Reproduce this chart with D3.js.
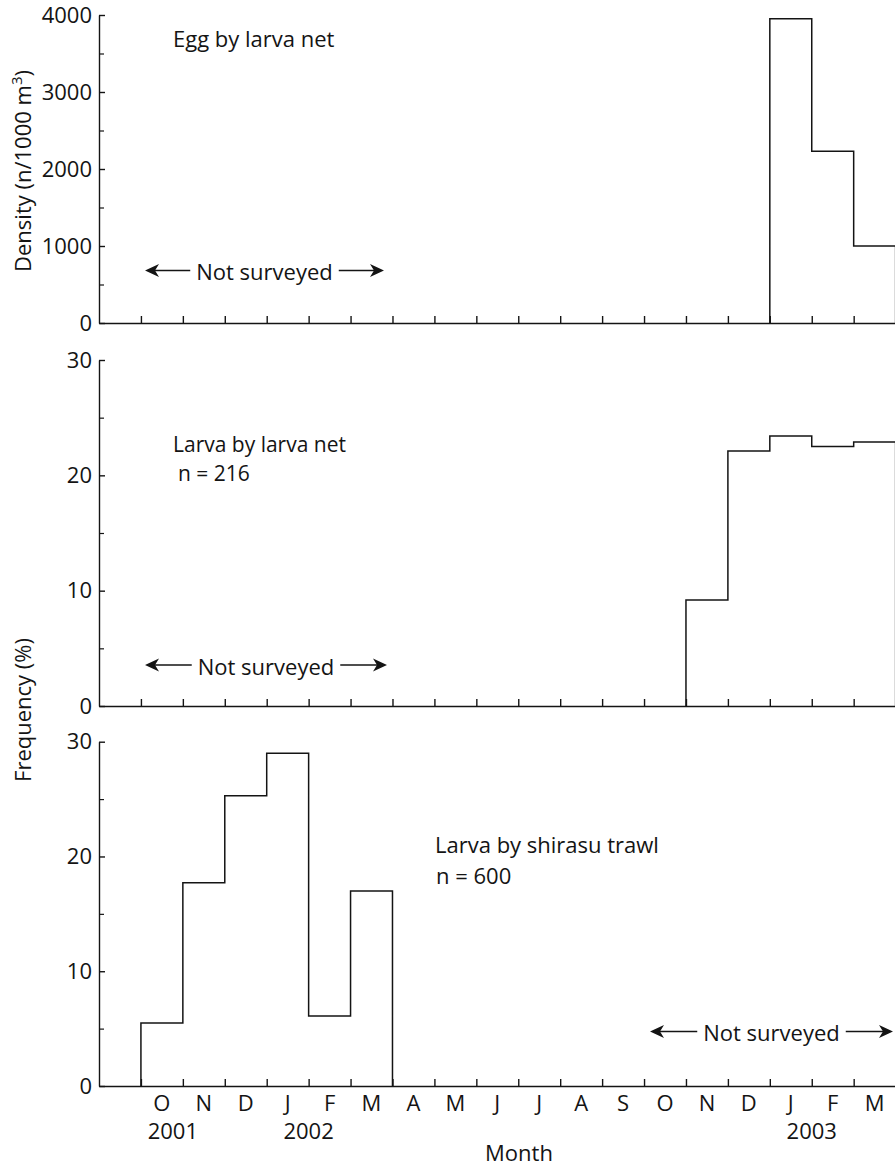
<!DOCTYPE html>
<html>
<head>
<meta charset="utf-8">
<script src="https://cdn.jsdelivr.net/npm/d3@7"></script>
<style>
  body { margin: 0; background: #fff; }
  svg { display: block; font-family: 'Open Sans', sans-serif; }
</style>
</head>
<body>
<svg id="chart" width="895" height="1165"></svg>
<script>
/* global d3 */
// Months on the x axis, Sep 2001 to Mar 2003 (Sep 2001 has no label).
const monthKeys = ['2001-09', '2001-10', '2001-11', '2001-12', '2002-01', '2002-02', '2002-03',
  '2002-04', '2002-05', '2002-06', '2002-07', '2002-08', '2002-09', '2002-10', '2002-11',
  '2002-12', '2003-01', '2003-02', '2003-03'];
const monthLabels = ['', 'O', 'N', 'D', 'J', 'F', 'M', 'A', 'M', 'J', 'J', 'A', 'S', 'O', 'N',
  'D', 'J', 'F', 'M'];
const yearLabels = ['2001', '2002', '2003'];
const yearAt = ['2001-11', '2002-02', '2003-02']; // label sits on the start of this month

// Egg density by larva net (n/1000 m3)
const eggMonths = ['2003-01', '2003-02', '2003-03'];
const eggValues = [3950, 2230, 1000];

// Larva frequency by larva net (%), n = 216
const netMonths = ['2002-11', '2002-12', '2003-01', '2003-02', '2003-03'];
const netValues = [9.2, 22.1, 23.4, 22.5, 22.9];

// Larva frequency by shirasu trawl (%), n = 600
const trawlMonths = ['2001-10', '2001-11', '2001-12', '2002-01', '2002-02', '2002-03'];
const trawlValues = [5.5, 17.7, 25.3, 29.0, 6.1, 17.0];

const densityTicks = [0, 1000, 2000, 3000, 4000];
const densityMinor = [500, 1500, 2500, 3500];
const freqTicks = [0, 10, 20, 30];
const freqMinor = [5, 15, 25];

const
  left = 99, // y axis position
  right = 895.6, // end of Mar 2003
  fontSize = 22,
  ink = '#141414';

const svg = d3.select('#chart');

const xBand = d3.scaleBand().domain(monthKeys).range([left, right]);
const xEdge = d3.scaleLinear().domain([0, monthKeys.length]).range([left, right]);

const panels = [
  {top: 15, bottom: 323, max: 4000, ticks: densityTicks, minor: densityMinor, months: eggMonths, values: eggValues},
  {top: 360, bottom: 706, max: 30, ticks: freqTicks, minor: freqMinor, months: netMonths, values: netValues},
  {top: 741.7, bottom: 1086, max: 30, ticks: freqTicks, minor: freqMinor, months: trawlMonths, values: trawlValues}
];

panels.forEach(function (p) {
  const y = d3.scaleLinear().domain([0, p.max]).range([p.bottom, p.top]);
  const g = svg.append('g');

  // histogram drawn as one step outline (no inner walls down to the base)
  const pts = [[xBand(p.months[0]), y(0)]];
  p.months.forEach(function (m, i) {
    pts.push([xBand(m), y(p.values[i])]);
    pts.push([xBand(m) + xBand.bandwidth(), y(p.values[i])]);
  });
  pts.push([xBand(p.months[p.months.length - 1]) + xBand.bandwidth(), y(0)]);
  g.append('path').
    attr('d', d3.line()(pts)).
    attr('fill', 'none').
    attr('stroke', ink).
    attr('stroke-width', 1.5);

  // x axis: inward ticks on month boundaries
  const xAxis = g.append('g').
    attr('transform', 'translate(0,' + p.bottom + ')').
    call(d3.axisBottom(xEdge).tickValues(d3.range(1, monthKeys.length)).
      tickSizeInner(-7).tickSizeOuter(0).tickFormat(''));
  xAxis.selectAll('path,line').attr('stroke', ink).attr('stroke-width', 1.4);

  // y axis major ticks with labels
  const yAxis = g.append('g').
    attr('transform', 'translate(' + left + ',0)').
    call(d3.axisLeft(y).tickValues(p.ticks).tickFormat(d3.format('d')).
      tickSizeInner(-6).tickSizeOuter(0).tickPadding(7));
  yAxis.attr('font-size', fontSize).attr('font-family', null);
  yAxis.selectAll('path,line').attr('stroke', ink).attr('stroke-width', 1.4);
  yAxis.selectAll('text').attr('fill', ink);

  // y axis minor ticks
  const yMinor = g.append('g').
    attr('transform', 'translate(' + left + ',0)').
    call(d3.axisLeft(y).tickValues(p.minor).tickSize(-5).tickFormat(''));
  yMinor.select('.domain').remove();
  yMinor.selectAll('line').attr('stroke', ink).attr('stroke-width', 1.2);
});

// Month and year labels under the bottom panel
const labels = svg.append('g').attr('font-size', fontSize).attr('fill', ink).attr('text-anchor', 'middle');
labels.selectAll('text.month').
  data(monthKeys).
  join('text').
  attr('class', 'month').
  attr('x', d => xBand(d) + xBand.bandwidth() / 2).
  attr('y', 1110.5).
  text((d, i) => monthLabels[i]);
labels.selectAll('text.year').
  data(yearLabels).
  join('text').
  attr('class', 'year').
  attr('x', (d, i) => xBand(yearAt[i]) - (i === 0 ? 10 : 0)).
  attr('y', 1138.5).
  text(d => d);
labels.append('text').attr('x', 519).attr('y', 1160.5).text('Month');

// Axis titles
const density = svg.append('text').
  attr('transform', 'translate(31,171) rotate(-90)').
  attr('text-anchor', 'middle').
  attr('font-size', fontSize).
  attr('fill', ink);
density.append('tspan').text('Density (n/1000 m');
density.append('tspan').attr('font-size', 15).attr('dy', -9).text('3');
density.append('tspan').attr('dy', 9).text(')');

svg.append('text').
  attr('transform', 'translate(31,710) rotate(-90)').
  attr('text-anchor', 'middle').
  attr('font-size', fontSize).
  attr('fill', ink).
  text('Frequency (%)');

// Panel captions
const captions = svg.append('g').attr('font-size', fontSize).attr('fill', ink);
captions.append('text').attr('x', 173).attr('y', 46.5).text('Egg by larva net');
captions.append('text').attr('x', 173).attr('y', 452).attr('font-size', 21).text('Larva by larva net');
captions.append('text').attr('x', 178).attr('y', 481).attr('font-size', 21).text('n = 216');
captions.append('text').attr('x', 435).attr('y', 853).text('Larva by shirasu trawl');
captions.append('text').attr('x', 436).attr('y', 884).text('n = 600');

// "Not surveyed" with arrows on both sides
function notSurveyed(x1, x2, yMid) {
  const g = svg.append('g');
  const t = g.append('text').
    attr('x', (x1 + x2) / 2).
    attr('y', yMid + 9.5).
    attr('text-anchor', 'middle').
    attr('font-size', fontSize).
    attr('fill', ink).
    text('Not surveyed');
  const w = t.node().getComputedTextLength();
  const tStart = (x1 + x2) / 2 - w / 2, tEnd = (x1 + x2) / 2 + w / 2;
  g.append('line').attr('x1', x1 + 6).attr('x2', tStart - 6).attr('y1', yMid).attr('y2', yMid).
    attr('stroke', ink).attr('stroke-width', 1.6);
  g.append('line').attr('x1', tEnd + 6).attr('x2', x2 - 6).attr('y1', yMid).attr('y2', yMid).
    attr('stroke', ink).attr('stroke-width', 1.6);
  const head = (tip, dir) => 'M' + tip + ',' + yMid +
    'L' + (tip + dir * 14) + ',' + (yMid - 6.5) +
    'L' + (tip + dir * 10) + ',' + yMid +
    'L' + (tip + dir * 14) + ',' + (yMid + 6.5) + 'Z';
  g.append('path').attr('d', head(x1, 1)).attr('fill', ink);
  g.append('path').attr('d', head(x2, -1)).attr('fill', ink);
}
notSurveyed(145, 384, 270.5);
notSurveyed(145, 387, 665);
notSurveyed(650, 893, 1031.5);
</script>
</body>
</html>
